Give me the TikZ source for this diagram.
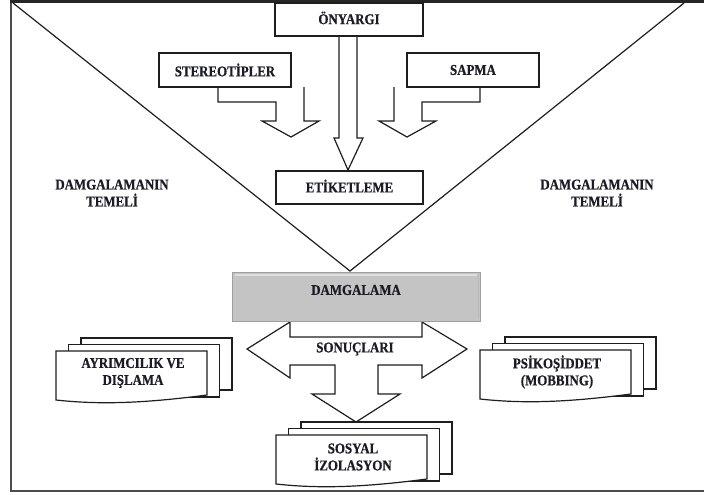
\documentclass[tikz,border=0pt]{standalone}
\usepackage{fontspec}
\setmainfont{Liberation Serif}[FakeStretch=0.86, BoldFeatures={FakeBold=0.6}]
\definecolor{txtc}{RGB}{28,28,40}
\definecolor{linec}{RGB}{30,30,30}
\definecolor{damfill}{RGB}{196,196,196}
\newcommand\docstack[4]{%
  \draw[ln, fill=white] ({#2+25},{#3-13}) rectangle ({#2+176},{#3+39});
  \draw[ln, fill=white] ({#2+12.5},{#3-6.5}) rectangle ({#2+163.5},{#3+46});
  \draw[ln, fill=white] (#2,#3) -- ({#2+151},#3) -- ({#2+151},{#3+44})
     .. controls ({#2+90},{#3+52}) and ({#2+45},{#3+54}) .. (#2,{#3+49}) -- cycle;
  \node[lbl] (#1) at ({#2+77},{#3+22}) {#4};
}
\begin{document}
\begin{tikzpicture}[x=1pt,y=-1pt,
  lbl/.style={font=\bfseries\fontsize{15}{17}\selectfont, text=txtc, align=center, inner sep=0pt},
  boxs/.style={draw=linec, line width=1.3pt, fill=white, inner sep=0pt},
  ln/.style={draw=linec, line width=1.2pt, line join=miter}]
\useasboundingbox (0,0) rectangle (704,495);
% frame
\draw[line width=1.8pt, draw=black!70] (11,2) -- (11,491) -- (704,491);
\draw[line width=3pt, draw=black!85] (10,2) -- (704,2);
% triangle
\coordinate (tl) at (13,3);
\coordinate (tr) at (684,3);
\coordinate (apex) at (350,271);
\draw[ln] (tl) -- (apex) -- (tr);
% block arrows (top)
\draw[ln, fill=white] (339,36) -- (339,138) -- (334,138) -- (348,170) -- (363,138) -- (357,138) -- (357,36);
\draw[ln, fill=white] (218,87) -- (218,102) -- (276,102) -- (276,121) -- (262,121) -- (291,137) -- (319,121) -- (304,121) -- (304,87);
\draw[ln, fill=white] (480,87) -- (480,102) -- (422,102) -- (422,121) -- (436,121) -- (407,137) -- (379,121) -- (394,121) -- (394,87);
% boxes
\node[boxs, minimum width=148pt, minimum height=33pt] (ony) at (349,19.5) {};
\node[lbl] (onyt) at (349,18) {ÖNYARGI};
\node[boxs, minimum width=132pt, minimum height=34pt] (ste) at (225,70) {};
\node[lbl] (stet) at (225,70) {STEREOTİPLER};
\node[boxs, minimum width=132pt, minimum height=34pt] (sap) at (473,70) {};
\node[lbl] (sapt) at (473,70) {SAPMA};
\node[boxs, minimum width=147pt, minimum height=33pt] (eti) at (349.5,187.5) {};
\node[lbl] (etit) at (349.5,186) {ETİKETLEME};
% side labels
\node[lbl] (tem1) at (112,193) {DAMGALAMANIN\\TEMELİ};
\node[lbl] (tem2) at (597,193) {DAMGALAMANIN\\TEMELİ};
% three-way arrow
\draw[ln, fill=white] (290,322) -- (290,337) -- (422,337) -- (422,322) -- (467,349) -- (422,378) -- (422,365) -- (378,365) -- (378,394) -- (400,394) -- (356,422) -- (312,394) -- (335,394) -- (335,365) -- (290,365) -- (290,378) -- (247,349) -- cycle;
\node[lbl] (son) at (355,349) {SONUÇLARI};
% damgalama box
\node[draw=gray!75, line width=1pt, fill=damfill, minimum width=248pt, minimum height=49pt, inner sep=0pt] (dam) at (356,296.5) {};
\draw[gray!25, line width=1.5pt] (235,275) -- (477,275);
\draw[gray!55, line width=1pt] (478,275) -- (478,318);
\node[lbl] (damt) at (356,290) {DAMGALAMA};
% document stacks
\docstack{ayr}{56}{351}{AYRIMCILIK VE\\DIŞLAMA}
\docstack{psi}{480}{350}{PSİKOŞİDDET\\(MOBBING)}
\docstack{sos}{276}{435}{SOSYAL\\İZOLASYON}
\end{tikzpicture}
\end{document}
